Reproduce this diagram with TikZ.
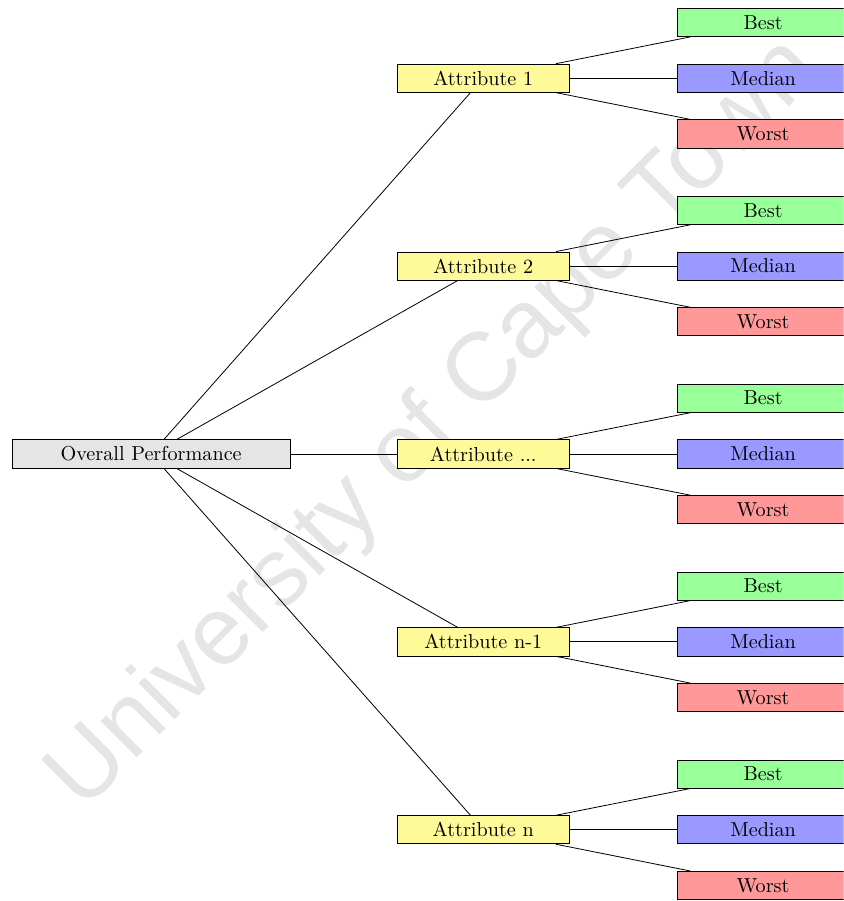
\documentclass[tikz,border=0pt]{standalone}
\usepackage{fontspec}
\newfontfamily\markfont{Liberation Sans}
\newcommand{\attrdots}{...}

\tikzset{
  box/.style={draw, rectangle, minimum height=0.49cm, inner sep=2pt},
  rootbox/.style={box, fill=gray!20, minimum width=4.84cm},
  attrbox/.style={box, fill=yellow!40, minimum width=3cm},
  bestbox/.style={box, fill=green!40, minimum width=3cm},
  medianbox/.style={box, fill=blue!40, minimum width=3cm},
  worstbox/.style={box, fill=red!40, minimum width=3cm}
}

\begin{document}
\begin{tikzpicture}

\useasboundingbox ( 0, 0 ) rectangle ( 14.68, -15.68 );
\clip ( 0, 0 ) rectangle ( 14.68, -15.68 );

% Watermark
\node (mark) at ( 7.57, -7.40 ) [rotate=45, text=black!10]
  {\markfont\fontsize{48}{58}\selectfont University of Cape Town};

% Overall performance
\node (root) at ( 2.63, -7.90 ) [rootbox] {Overall Performance};

% Attributes and their outcomes
\foreach \name/\y/\label in {a1/-1.36/1, a2/-4.63/2, a3/-7.90/\attrdots, a4/-11.17/n-1, a5/-14.44/n} {
  \node (\name) at ( 8.41, \y ) [attrbox] {Attribute \label};
  \draw (root) -- (\name);

  \node (\name-best) at ( 13.28, \y+0.97 ) [bestbox] {Best};
  \node (\name-median) at ( 13.28, \y ) [medianbox] {Median};
  \node (\name-worst) at ( 13.28, \y-0.97 ) [worstbox] {Worst};
  \draw (\name) -- (\name-best);
  \draw (\name) -- (\name-median);
  \draw (\name) -- (\name-worst);
}

\end{tikzpicture}
\end{document}
